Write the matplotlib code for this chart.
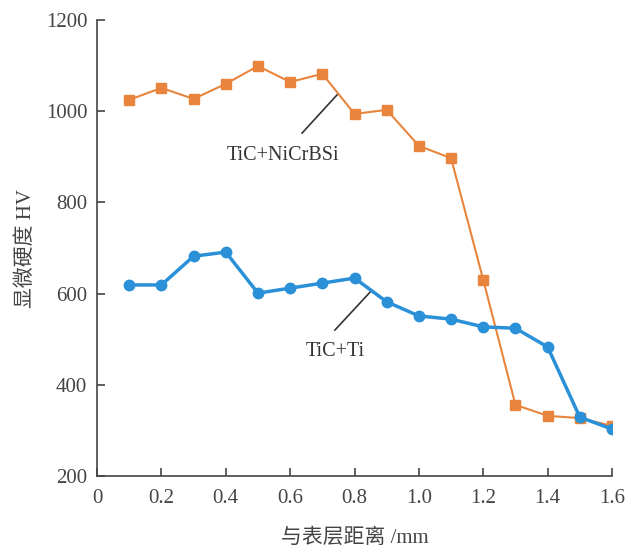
import matplotlib
matplotlib.use("Agg")
import matplotlib.pyplot as plt
import numpy as np

plt.rcParams['font.family'] = ['Liberation Serif', 'Noto Sans CJK SC']

depth = [0.1, 0.2, 0.3, 0.4, 0.5, 0.6, 0.7, 0.8, 0.9, 1.0, 1.1, 1.2, 1.3, 1.4, 1.5, 1.6]
hv_nicrbsi = [1025, 1051, 1027, 1060, 1099, 1064, 1082, 994, 1003, 924, 897, 630, 356, 332, 327, 310]
hv_ti = [619, 619, 682, 691, 601, 612, 623, 634, 582, 551, 544, 527, 524, 483, 329, 303]

xticks = [0, 0.2, 0.4, 0.6, 0.8, 1.0, 1.2, 1.4, 1.6]
xtick_labels = ['0', '0.2', '0.4', '0.6', '0.8', '1.0', '1.2', '1.4', '1.6']
yticks = [200, 400, 600, 800, 1000, 1200]

orange = '#E8843C'
blue = '#2A90D8'
grey = '#444444'

fig = plt.figure(figsize = (6.35, 5.51), dpi = 100)
ax = fig.add_axes([0.1528, 0.1361, 0.811, 0.8276])

ax.plot(depth, hv_nicrbsi, color = orange, linewidth = 1.5, marker = 's', markersize = 6.5, zorder = 3)
ax.plot(depth, hv_ti, color = blue, linewidth = 2.5, marker = 'o', markersize = 7.5, zorder = 4)

# leader lines + series names
ax.plot([0.637, 0.746], [952, 1036], color = '#333333', linewidth = 1.2, zorder = 2)
ax.text(0.578, 903, 'TiC+NiCrBSi', fontsize = 14.5, ha = 'center', va = 'center', color = '#333333')
ax.plot([0.739, 0.848], [520, 603], color = '#333333', linewidth = 1.2, zorder = 2)
ax.text(0.739, 474, 'TiC+Ti', fontsize = 14.5, ha = 'center', va = 'center', color = '#333333')

ax.set_xlim(0, 1.6)
ax.set_ylim(200, 1200)
ax.set_xticks(xticks)
ax.set_xticklabels(xtick_labels)
ax.set_yticks(yticks)

ax.spines['top'].set_visible(False)
ax.spines['right'].set_visible(False)
ax.spines['left'].set_color(grey)
ax.spines['bottom'].set_color(grey)
ax.spines['left'].set_linewidth(1.2)
ax.spines['bottom'].set_linewidth(1.2)
ax.tick_params(direction = 'in', length = 6, width = 1.2, color = grey, labelsize = 15, labelcolor = grey)
ax.tick_params(axis = 'x', pad = 9)
ax.tick_params(axis = 'y', pad = 7)

ax.set_ylabel('显微硬度 HV', fontsize = 15, color = grey, labelpad = 7)
ax.set_xlabel('与表层距离 /mm', fontsize = 15, color = grey, labelpad = 15)

fig.savefig('out.png', dpi = 100)
